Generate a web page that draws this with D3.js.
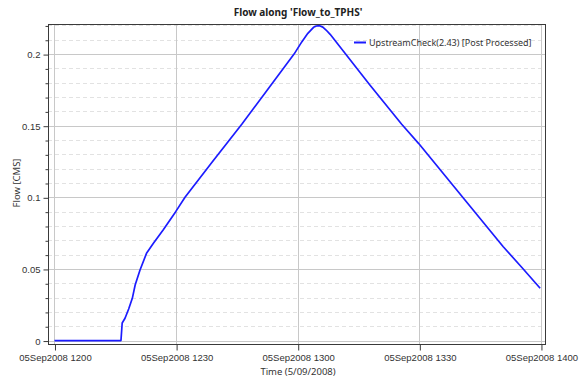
<!DOCTYPE html>
<html>
<head>
<meta charset="utf-8">
<script src="https://cdn.jsdelivr.net/npm/d3@7"></script>
<style>
  body { margin: 0; background: #fff; }
  svg { font-family: "Noto Sans", "Open Sans", sans-serif; }
  .grid-major { stroke: #c8c8c8; stroke-width: 1; }
  .grid-minor { stroke: #e2e2e2; stroke-width: 1; stroke-dasharray: 4,3; }
  .tick-label { font-size: 9.5px; fill: #333; }
</style>
</head>
<body>
<div id="chart"></div>
<script>
// Minutes after 05 Sep 2008 12:00, and flow in CMS
const minutes = [0, 16.4, 16.7, 17.4, 18.3, 19.2, 19.9, 21.1, 22.7, 24.4, 26.8, 29.9, 32.2, 39,
    46.2, 52.5, 59.1, 61, 62.5, 63.9, 64.6, 65.4, 66.2, 67, 68, 77.8, 85.65, 89.8, 100.9,
    110.7, 115.3, 119.8];
const flow = [0, 0, 0.0123, 0.0156, 0.022, 0.0295, 0.0388, 0.0493, 0.0609, 0.0679, 0.0772, 0.090,
    0.100, 0.125, 0.151, 0.175, 0.200, 0.2085, 0.2145, 0.2187, 0.2196, 0.2198, 0.2188, 0.2168,
    0.2138, 0.1784, 0.151, 0.1377, 0.0993, 0.0655, 0.051, 0.0365];
const xTickMinutes = [0, 30, 60, 90, 120];
const yMajorTicks = [0, 0.05, 0.1, 0.15, 0.2];
const yMinorTicks = [0.01, 0.02, 0.03, 0.04, 0.06, 0.07, 0.08, 0.09, 0.11, 0.12, 0.13, 0.14,
    0.16, 0.17, 0.18, 0.19, 0.21, 0.22];
const seriesName = "UpstreamCheck(2.43) [Post Processed]";
const chartTitle = "Flow along 'Flow_to_TPHS'";

const width = 579, height = 382;
const plot = { left: 48, right: 545, top: 24, bottom: 344 };
const start = new Date(2008, 8, 5, 12, 0);
const toTime = m => new Date(start.getTime() + m * 60000);

const svg = d3.select("#chart").append("svg")
    .attr("width", width).attr("height", height);

const x = d3.scaleTime()
    .domain([toTime(-1.6), toTime(121)])
    .range([plot.left, plot.right]);
const y = d3.scaleLinear()
    .domain([-0.0024, 0.221])
    .range([plot.bottom, plot.top]);

// Minor horizontal grid (dashed)
svg.selectAll(".grid-minor").data(yMinorTicks).enter().append("line")
    .attr("class", "grid-minor")
    .attr("x1", plot.left).attr("x2", plot.right)
    .attr("y1", d => Math.round(y(d)) + 0.5).attr("y2", d => Math.round(y(d)) + 0.5);

// Major grid
svg.selectAll(".grid-h").data(yMajorTicks).enter().append("line")
    .attr("class", "grid-major")
    .attr("x1", plot.left).attr("x2", plot.right)
    .attr("y1", d => Math.round(y(d)) + 0.5).attr("y2", d => Math.round(y(d)) + 0.5);
svg.selectAll(".grid-v").data(xTickMinutes).enter().append("line")
    .attr("class", "grid-major")
    .attr("y1", plot.top).attr("y2", plot.bottom)
    .attr("x1", d => Math.round(x(toTime(d))) + 0.5).attr("x2", d => Math.round(x(toTime(d))) + 0.5);

// Frame
svg.append("rect")
    .attr("x", plot.left + 0.5).attr("y", plot.top + 0.5)
    .attr("width", plot.right - plot.left).attr("height", plot.bottom - plot.top)
    .attr("fill", "none").attr("stroke", "#3a3a3a").attr("stroke-width", 1);

// Y axis
const yAxis = d3.axisLeft(y).tickValues(yMajorTicks).tickSize(5).tickPadding(3)
    .tickFormat(d => d === 0 ? "0" : String(+d.toFixed(2)));
const gy = svg.append("g").attr("transform", `translate(${plot.left + 0.5},0.5)`).call(yAxis);
gy.select(".domain").remove();
gy.selectAll("text").attr("class", "tick-label").attr("font-size", null).attr("fill", null);
gy.selectAll("line").attr("stroke", "#3a3a3a");
const yMinorAxis = d3.axisLeft(y).tickValues(yMinorTicks).tickSize(3).tickFormat("");
const gym = svg.append("g").attr("transform", `translate(${plot.left + 0.5},0.5)`).call(yMinorAxis);
gym.select(".domain").remove();
gym.selectAll("line").attr("stroke", "#3a3a3a");

// X axis
const xAxis = d3.axisBottom(x).tickValues(xTickMinutes.map(toTime)).tickSize(6).tickPadding(4)
    .tickFormat(d3.timeFormat("%d%b%Y %H%M"));
const gx = svg.append("g").attr("transform", `translate(0.5,${plot.bottom + 0.5})`).call(xAxis);
gx.select(".domain").remove();
gx.selectAll("text").attr("class", "tick-label").attr("font-size", null).attr("fill", null);
gx.selectAll("line").attr("stroke", "#3a3a3a");

// Series line
const points = minutes.map((m, i) => ({ t: toTime(m), v: flow[i] }));
const line = d3.line().x(d => x(d.t)).y(d => y(d.v));
svg.append("path").datum(points)
    .attr("d", line)
    .attr("fill", "none")
    .attr("stroke", "#1c1cff")
    .attr("stroke-width", 1.7)
    .attr("stroke-linejoin", "round");

// Legend
svg.append("line")
    .attr("x1", 354).attr("x2", 366).attr("y1", 42.5).attr("y2", 42.5)
    .attr("stroke", "#1c1cff").attr("stroke-width", 2);
svg.append("text")
    .attr("x", 369).attr("y", 46)
    .attr("font-size", "9px").attr("fill", "#333")
    .text(seriesName);

// Titles
svg.append("text")
    .attr("x", 298).attr("y", 16)
    .attr("text-anchor", "middle")
    .attr("font-size", "10px").attr("font-weight", "bold").attr("fill", "#222")
    .text(chartTitle);
svg.append("text")
    .attr("x", 298).attr("y", 375)
    .attr("text-anchor", "middle")
    .attr("font-size", "9.5px").attr("fill", "#333")
    .text("Time (5/09/2008)");
svg.append("text")
    .attr("transform", "translate(20,183) rotate(-90)")
    .attr("text-anchor", "middle")
    .attr("font-size", "9.5px").attr("fill", "#333")
    .text("Flow [CMS]");
</script>
</body>
</html>
